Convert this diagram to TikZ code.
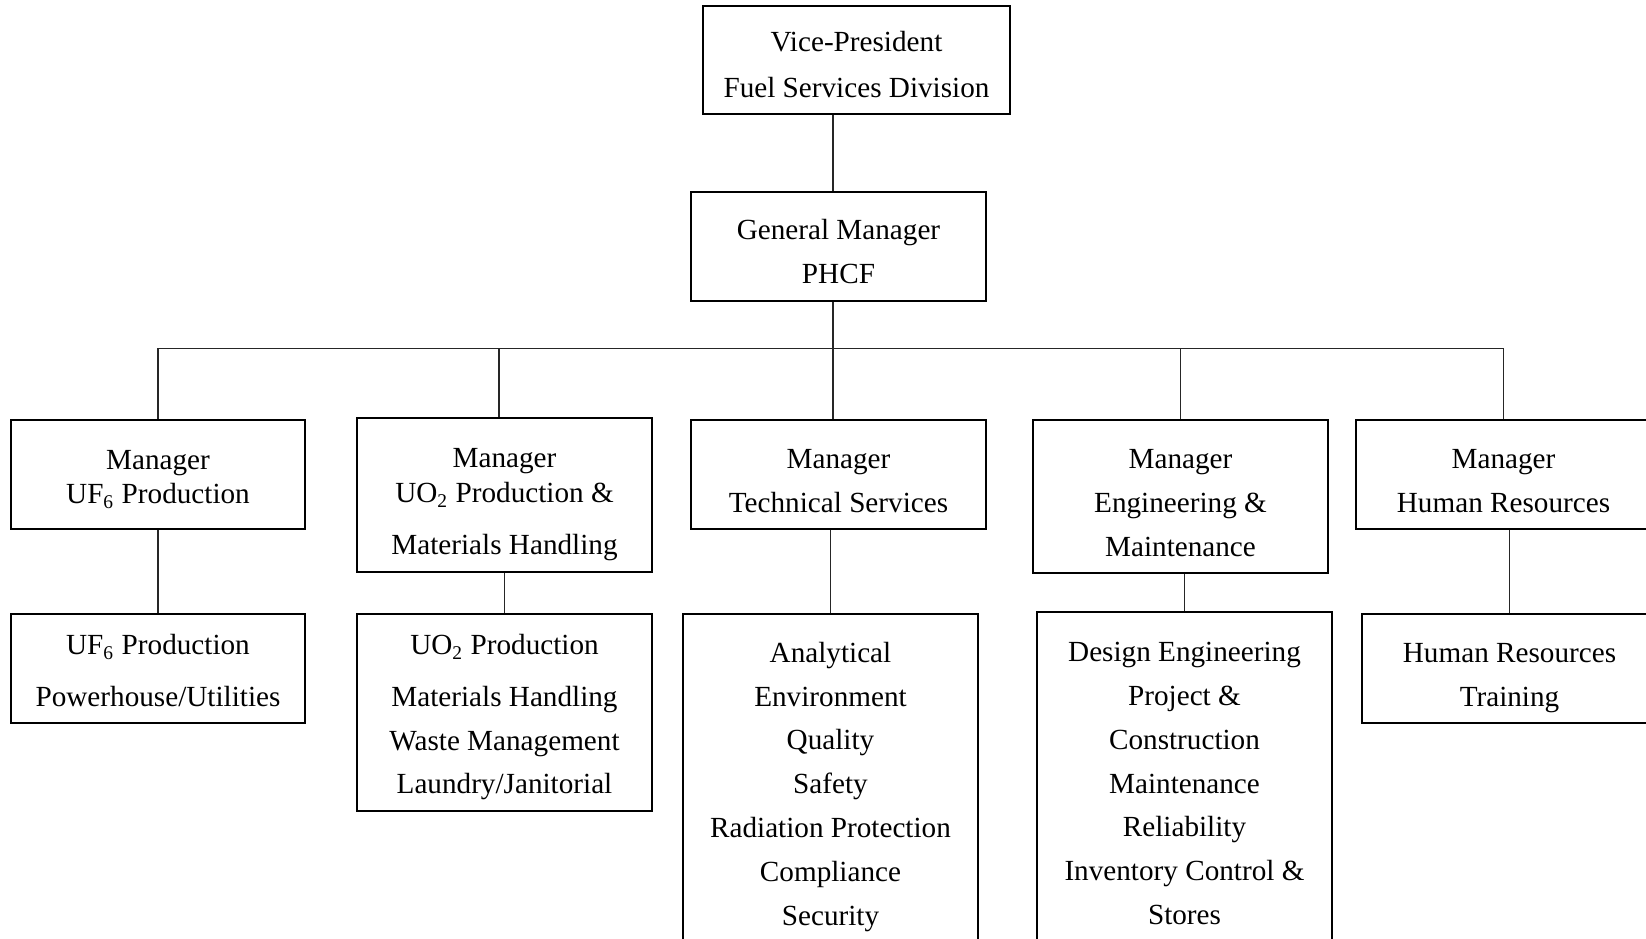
\documentclass[tikz,border=0pt]{standalone}
\usepackage{fontspec}
\setmainfont{Liberation Serif}

\newcommand{\lift}[1]{\rule{0pt}{#1}}
\tikzset{
  unit/.style={draw, line width=0.8pt, minimum width=4.26cm, align=center, inner sep=0pt, font=\fontsize{12}{18}\selectfont},
  link/.style={line width=0.5pt, black!85}
}

\begin{document}
\begin{tikzpicture}[x=0.01445cm,y=-0.01445cm]
  \clip (0,0) rectangle (1646,939);
  % top of the chart
  \node[unit, minimum width=4.44cm, minimum height=1.56cm] (vp) at (856.5,60) {\lift{12.3pt}Vice-President\\[1pt]Fuel Services Division};
  \node[unit, minimum height=1.575cm] (gm) at (838.5,246.5) {\lift{12.3pt}General Manager\\PHCF};
  % managers
  \node[unit, minimum height=1.575cm] (mUF) at (158,474.5) {\lift{12pt}Manager\\[-4pt]UF\textsubscript{6} Production};
  \node[unit, minimum height=2.225cm] (mUO) at (504.5,495) {\lift{15.6pt}Manager\\[-3.3pt]UO\textsubscript{2} Production \&\\[3.3pt]Materials Handling};
  \node[unit, minimum height=1.575cm] (mTS) at (838.5,474.5) {\lift{13.1pt}Manager\\Technical Services};
  \node[unit, minimum height=2.21cm] (mEM) at (1180.5,496.5) {\lift{13.1pt}Manager\\Engineering \&\\Maintenance};
  \node[unit, minimum height=1.575cm] (mHR) at (1503.5,474.5) {\lift{13.1pt}Manager\\Human Resources};
  % sections
  \node[unit, minimum height=1.575cm] (sUF) at (158,668.5) {\lift{10.3pt}UF\textsubscript{6} Production\\[3.3pt]Powerhouse/Utilities};
  \node[unit, minimum height=2.847cm] (sUO) at (504.5,712.5) {\lift{12.3pt}UO\textsubscript{2} Production\\[3.3pt]Materials Handling\\Waste Management\\Laundry/Janitorial};
  \node[unit, minimum height=4.94cm] (sTS) at (830.5,785) {\lift{9.8pt}Analytical\\Environment\\Quality\\Safety\\Radiation Protection\\Compliance\\Security};
  \node[unit, minimum height=4.96cm] (sEM) at (1184.5,783.5) {Design Engineering\\Project \&\\Construction\\Maintenance\\Reliability\\Inventory Control \&\\Stores};
  \node[unit, minimum height=1.575cm] (sHR) at (1509.5,668.5) {\lift{15.6pt}Human Resources\\Training};
  % connectors
  \coordinate (spine) at (833,348.5);
  \draw[link] (vp.south -| spine) -- (gm.north -| spine);
  \draw[link] (gm.south -| spine) -- (mTS.north -| spine);
  \draw[link] (mUF.north) -- (mUF.north |- spine) -- (mHR.north |- spine) -- (mHR.north);
  \draw[link] (mUO.north -| 499,0) -- (spine -| 499,0);
  \draw[link] (mEM.north) -- (mEM.north |- spine);
  \foreach \m/\s in {mUF/sUF, mUO/sUO, mTS/sTS, mEM/sEM, mHR/sHR}
    \draw[link] (\s.north) -- (\s.north |- \m.south);
\end{tikzpicture}
\end{document}
